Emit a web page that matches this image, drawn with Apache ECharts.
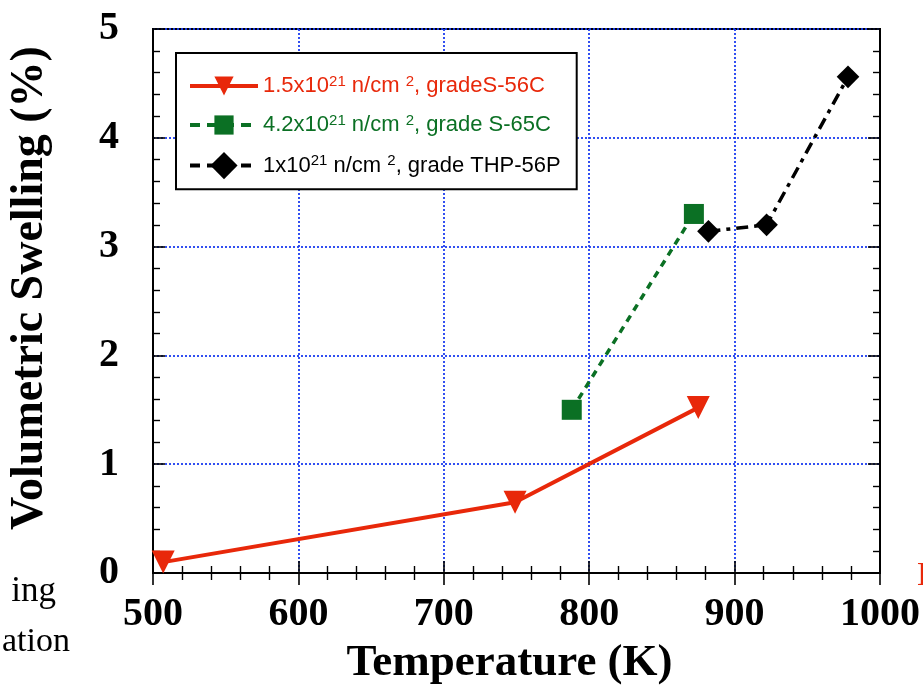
<!DOCTYPE html>
<html>
<head>
<meta charset="utf-8">
<script src="https://cdn.jsdelivr.net/npm/echarts@6/dist/echarts.min.js"></script>
<style>html,body{margin:0;padding:0;background:#fff}#c{width:923px;height:688px}</style>
</head>
<body>
<div id="c"></div>
<script>
// Data
const redTemp = [507, 749, 875];
const redSwell = [0.1, 0.65, 1.52];
const greenTemp = [788, 872];
const greenSwell = [1.5, 3.3];
const blackTemp = [882, 922, 978];
const blackSwell = [3.14, 3.2, 4.56];
const seriesNames = ['red', 'green', 'black'];
const xTicks = [500, 600, 700, 800, 900, 1000];
const yTicks = [0, 1, 2, 3, 4, 5];

const pairs = (xs, ys) => xs.map((x, i) => [x, ys[i]]);
const serif = '"Liberation Serif", "Times New Roman", serif';
const sans = '"Liberation Sans", Arial, sans-serif';
const gridColor = '#1c3cf0';

const chart = echarts.init(document.getElementById('c'));

const tickCommon = {
  axisTick: { show: true, inside: true, length: 12, lineStyle: { color: '#000', width: 1.6 } },
  minorTick: { show: true, splitNumber: 5, length: 7, lineStyle: { color: '#000', width: 1.4 } },
  axisLine: { show: true, lineStyle: { color: '#000', width: 2 } }
};

const rich = (c) => ({
  t: { color: c, fontSize: 22, fontFamily: sans },
  s: { color: c, fontSize: 15, fontFamily: sans, padding: [0, 0, 9, 0] }
});
const fmt = {
  red: '{t|1.5x10}{s|21}{t| n/cm }{s|2}{t|, gradeS-56C}',
  green: '{t|4.2x10}{s|21}{t| n/cm }{s|2}{t|, grade S-65C}',
  black: '{t|1x10}{s|21}{t| n/cm }{s|2}{t|, grade THP-56P}'
};
const colors = { red: '#e8280a', green: '#0b7024', black: '#000000' };
const legendDash = { red: 'solid', green: [10, 7], black: [10, 7] };

chart.setOption({
  animation: false,
  backgroundColor: '#fff',
  grid: { left: 153, right: 43, top: 29, bottom: 115, show: true, borderColor: '#000', borderWidth: 2,
    containLabel: false, outerBoundsMode: 'none' },
  xAxis: [
    Object.assign({
      type: 'value', min: 500, max: 1000, interval: 100,
      axisLabel: { margin: 22, fontFamily: serif, fontWeight: 'bold', fontSize: 40, color: '#000',
        formatter: v => xTicks.includes(v) ? String(v) : '' },
      splitLine: { show: true, lineStyle: { color: gridColor, type: [2, 2], width: 1.8 } },
      name: 'Temperature (K)', nameLocation: 'middle', nameGap: 68,
      nameTextStyle: { fontFamily: serif, fontWeight: 'bold', fontSize: 45, color: '#000', padding: [0, 14, 0, 0] }
    }, tickCommon),
    Object.assign({
      type: 'value', min: 500, max: 1000, interval: 100, position: 'top',
      axisLabel: { show: false }, splitLine: { show: false }
    }, tickCommon)
  ],
  yAxis: [
    Object.assign({
      type: 'value', min: 0, max: 5, interval: 1,
      axisLabel: { margin: 34, fontFamily: serif, fontWeight: 'bold', fontSize: 40, color: '#000',
        padding: [0, 0, 14, 0], formatter: v => yTicks.includes(v) ? String(v) : '' },
      splitLine: { show: true, lineStyle: { color: gridColor, type: [2, 2], width: 1.8 } },
      name: 'Volumetric Swelling (%)', nameLocation: 'middle', nameGap: 100,
      nameTextStyle: { fontFamily: serif, fontWeight: 'bold', fontSize: 46, color: '#000', padding: [0, 0, 0, 26] }
    }, tickCommon),
    Object.assign({
      type: 'value', min: 0, max: 5, interval: 1, position: 'right',
      axisLabel: { show: false }, splitLine: { show: false }
    }, tickCommon)
  ],
  legend: {
    orient: 'vertical', left: 176, top: 53,
    backgroundColor: '#fff', borderColor: '#000', borderWidth: 2,
    padding: [21, 16, 10, 12], itemGap: 16, itemWidth: 68, itemHeight: 24,
    selectedMode: false,
    data: seriesNames.map(n => ({
      name: n,
      textStyle: { rich: rich(colors[n]) },
      lineStyle: { width: 4, type: legendDash[n], color: colors[n] }
    })),
    formatter: n => fmt[n]
  },
  series: [
    {
      name: 'red', type: 'line', data: pairs(redTemp, redSwell),
      symbol: 'triangle', symbolRotate: 180, symbolSize: 23,
      itemStyle: { color: colors.red },
      lineStyle: { color: colors.red, width: 4 }
    },
    {
      name: 'green', type: 'line', data: pairs(greenTemp, greenSwell),
      symbol: 'rect', symbolSize: 20,
      itemStyle: { color: colors.green },
      lineStyle: { color: colors.green, width: 3.5, type: [7, 6] }
    },
    {
      name: 'black', type: 'line', data: pairs(blackTemp, blackSwell),
      symbol: 'rect', symbolRotate: 45, symbolSize: 16,
      itemStyle: { color: colors.black },
      lineStyle: { color: colors.black, width: 3.5, type: [12, 6, 4, 6] }
    }
  ],
  graphic: [
    { type: 'text', x: 56, y: 574, style: { text: 'ing', font: '35px ' + serif, fill: '#000', align: 'right', verticalAlign: 'top' } },
    { type: 'text', x: 70, y: 625, style: { text: 'ation', font: '34px ' + serif, fill: '#000', align: 'right', verticalAlign: 'top' } },
    { type: 'text', x: 917, y: 559, style: { text: 'E', font: '34px ' + serif, fill: '#e8280a', verticalAlign: 'top' } }
  ]
});
</script>
</body>
</html>
